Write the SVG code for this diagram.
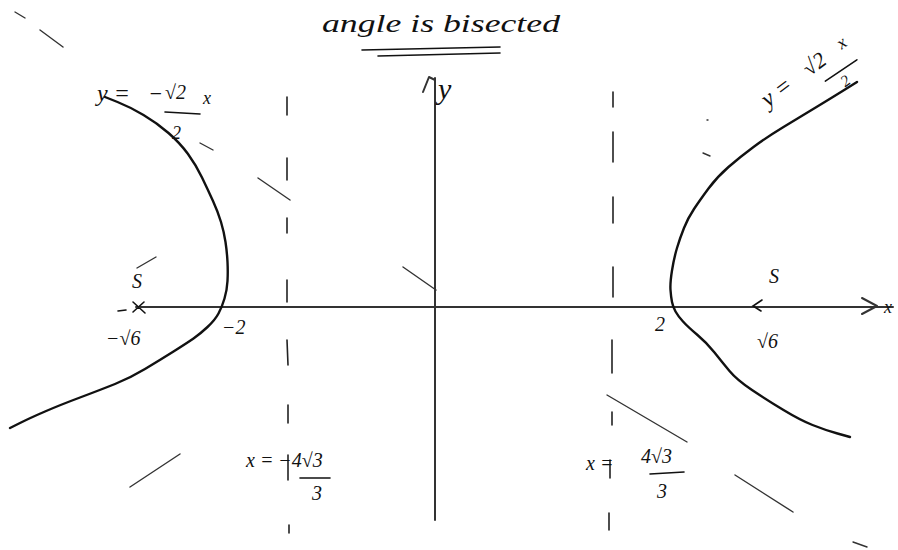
<svg xmlns="http://www.w3.org/2000/svg" width="898" height="550" viewBox="0 0 898 550">
<style>
.t{font-family:"Liberation Serif","DejaVu Serif",serif;font-style:italic;fill:#111}
.curve{fill:none;stroke:#111;stroke-width:2.4;stroke-linejoin:round;stroke-linecap:round}
.axis{fill:none;stroke:#333;stroke-width:2;stroke-linecap:round;stroke-linejoin:round}
.dir{fill:none;stroke:#222;stroke-width:1.6;stroke-linecap:round}
.asy{fill:none;stroke:#333;stroke-width:1.4;stroke-linecap:round}
.ink{fill:none;stroke:#111;stroke-width:1.6;stroke-linecap:round}
</style>
<rect width="898" height="550" fill="#fff"/>
<g id="title">
<text class="t" x="322" y="32" font-size="25" textLength="238" lengthAdjust="spacingAndGlyphs">angle is bisected</text>
<path class="ink" d="M362,50 L500,47 M378,56 L500,53"/>
</g>
<g id="axes">
<path class="axis" d="M136,307 L893,307"/>
<path class="axis" d="M862,298 L877,306 L862,314"/>
<path class="axis" d="M435,520 L435,78"/>
<path class="axis" d="M423,92 L429,77 L435,80"/>
<text class="t" x="884" y="313" font-size="18">x</text>
<text class="t" x="438" y="99" font-size="30">y</text>
</g>
<g id="directrices">
<path class="dir" d="M287,97 L287,115 M287,158 L287,180 M287,218 L287,233 M287,280 L287,302 M287,340 L288,365 M288,405 L288,423 M288,455 L288,480 M289,525 L289,533"/>
<path class="dir" d="M613,92 L613,107 M613,132 L613,162 M613,197 L613,223 M613,267 L613,297 M612,340 L612,373 M612,412 L612,425 M610,460 L610,478 M609,513 L609,530"/>
</g>
<g id="asymptotes">
<path class="asy" d="M15,12 L25,18 M40,30 L63,47 M200,143 L213,150 M258,178 L290,200 M403,267 L436,290 M607,395 L687,442 M735,475 L793,512 M853,542 L867,547"/>
<path class="asy" d="M130,487 L180,454 M137,268 L156,257 M703,153 L710,156 M707,120 L708,120"/>
</g>
<g id="hyperbola">
<path class="curve" d="M105,97 L117.5,102 Q130,107 143.5,115 Q157,123 168.5,133 Q180,143 188,154 Q196,165 202,177.5 Q208,190 213,201 Q218,212 221,222 Q224,232 225.5,242 Q227,252 227.5,262 Q228,272 227.5,281 Q227,290 224.5,298.5 Q222,307 218.5,313.5 Q215,320 207.5,327 Q200,334 193.5,338.5 Q187,343 173.5,351.5 Q160,360 145,369 Q130,378 115,384 Q100,390 80,397.5 Q60,405 45,411.5 Q30,418 20,423 L10,428"/>
<path class="curve" d="M857,82 L845,89.5 Q833,97 816.5,107 Q800,117 783.5,127 Q767,137 753.5,147 Q740,157 728.5,167 Q717,177 708.5,188.5 Q700,200 694,209 Q688,218 684,228 Q680,238 677,248 Q674,258 672,270.5 Q670,283 670.5,290 Q671,297 672,302 Q673,307 675.5,311.5 Q678,316 683,321.5 Q688,327 697.5,335 Q707,343 714.5,352.5 Q722,362 729.5,371 Q737,380 752,390 Q767,400 783.5,410 Q800,420 812.5,425 Q825,430 837.5,433.5 L850,437"/>
</g>
<g id="marks">
<path class="ink" d="M133,302 L145,313 M133,312 L144,302 M118,311 L126,310"/>
<path class="ink" d="M762,300 L753,306 L761,311"/>
</g>
<g id="labels">
<text class="t" x="132" y="288" font-size="20">S</text>
<text class="t" x="769" y="283" font-size="20">S</text>
<text class="t" x="106" y="345" font-size="20">−√6</text>
<text class="t" x="222" y="334" font-size="20">−2</text>
<text class="t" x="655" y="331" font-size="20">2</text>
<text class="t" x="757" y="348" font-size="20">√6</text>
<text class="t" x="97" y="101" font-size="24">y =</text>
<text class="t" x="148" y="101" font-size="22">−</text>
<text class="t" x="165" y="99" font-size="20">√2</text>
<text class="t" x="203" y="104" font-size="18">x</text>
<path class="ink" d="M165,112 L200,114"/>
<text class="t" x="172" y="139" font-size="18">2</text>
<g transform="translate(768,108) rotate(-37)">
<text class="t" x="0" y="0" font-size="24">y =</text>
<text class="t" x="52" y="0" font-size="22">√2</text>
<text class="t" x="94" y="-2" font-size="18">x</text>
<path class="ink" d="M62,13 L100,15"/>
<text class="t" x="74" y="30" font-size="16">2</text>
</g>
<text class="t" x="246" y="467" font-size="20">x = −4√3</text>
<path class="ink" d="M300,478 L330,478"/>
<text class="t" x="312" y="500" font-size="20">3</text>
<text class="t" x="586" y="470" font-size="20">x =</text>
<text class="t" x="641" y="463" font-size="20">4√3</text>
<path class="ink" d="M650,474 L684,472"/>
<text class="t" x="657" y="498" font-size="20">3</text>
</g>
</svg>
